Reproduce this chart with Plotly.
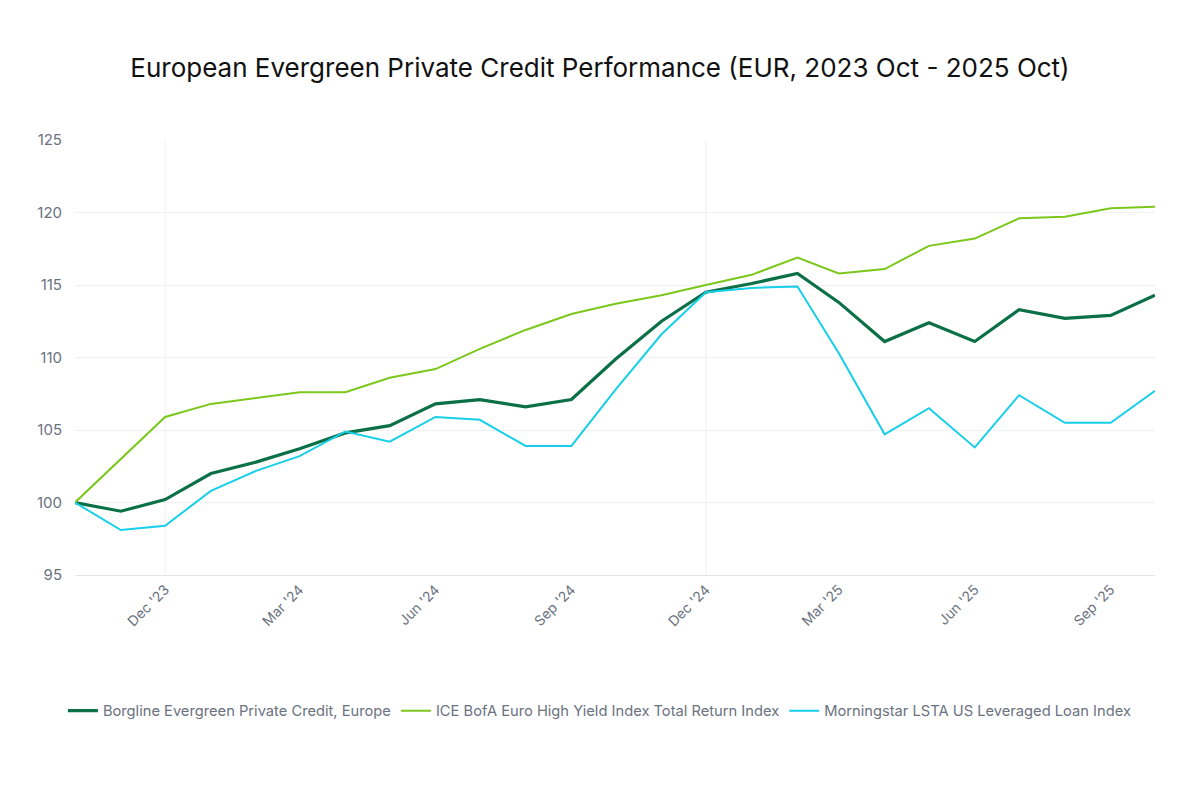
import plotly.graph_objects as go

# monthly index levels, Oct 2023 = 100
months = [
    "2023-10-01", "2023-11-01", "2023-12-01", "2024-01-01", "2024-02-01",
    "2024-03-01", "2024-04-01", "2024-05-01", "2024-06-01", "2024-07-01",
    "2024-08-01", "2024-09-01", "2024-10-01", "2024-11-01", "2024-12-01",
    "2025-01-01", "2025-02-01", "2025-03-01", "2025-04-01", "2025-05-01",
    "2025-06-01", "2025-07-01", "2025-08-01", "2025-09-01", "2025-10-01",
]

borgline = [
    100.0, 99.4, 100.2, 102.0, 102.8, 103.7, 104.8, 105.3, 106.8, 107.1,
    106.6, 107.1, 109.9, 112.5, 114.5, 115.1, 115.8, 113.8, 111.1, 112.4,
    111.1, 113.3, 112.7, 112.9, 114.3,
]
ice_hy = [
    100.0, 103.0, 105.9, 106.8, 107.2, 107.6, 107.6, 108.6, 109.2, 110.6,
    111.9, 113.0, 113.7, 114.3, 115.0, 115.7, 116.9, 115.8, 116.1, 117.7,
    118.2, 119.6, 119.7, 120.3, 120.4,
]
lsta = [
    100.0, 98.1, 98.4, 100.8, 102.2, 103.2, 104.9, 104.2, 105.9, 105.7,
    103.9, 103.9, 107.8, 111.6, 114.5, 114.8, 114.9, 110.3, 104.7, 106.5,
    103.8, 107.4, 105.5, 105.5, 107.7,
]

tick_dates = ["2023-12-01", "2024-03-01", "2024-06-01", "2024-09-01",
              "2024-12-01", "2025-03-01", "2025-06-01", "2025-09-01"]
tick_labels = ["Dec '23", "Mar '24", "Jun '24", "Sep '24",
               "Dec '24", "Mar '25", "Jun '25", "Sep '25"]
year_lines = ["2023-12-01", "2024-12-01"]

font = "Inter, Lato, sans-serif"
grey = "#6b7280"

fig = go.Figure()
fig.add_trace(go.Scatter(x=months, y=borgline, mode="lines",
                         name="Borgline Evergreen Private Credit, Europe",
                         line=dict(color="#0b7047", width=3.2)))
fig.add_trace(go.Scatter(x=months, y=ice_hy, mode="lines",
                         name="ICE BofA Euro High Yield Index Total Return Index",
                         line=dict(color="#7cc71b", width=2)))
fig.add_trace(go.Scatter(x=months, y=lsta, mode="lines",
                         name="Morningstar LSTA US Leveraged Loan Index",
                         line=dict(color="#17cfe8", width=2)))

# vertical guides at year end
for d in year_lines:
    fig.add_shape(type="line", xref="x", yref="paper", x0=d, x1=d, y0=0, y1=1,
                  line=dict(color="#eef0f2", width=1), layer="below")

fig.update_layout(
    width=1200, height=800,
    paper_bgcolor="white", plot_bgcolor="white",
    font=dict(family=font, color=grey),
    title=dict(text="European Evergreen Private Credit Performance (EUR, 2023 Oct - 2025 Oct)",
               x=0.4933, xanchor="center", y=0.925, yanchor="middle",
               font=dict(size=26, color="#111111", family=font)),
    margin=dict(l=67, r=53, t=132, b=233),
    showlegend=True,
    legend=dict(orientation="h", x=0.486, xanchor="center", y=-0.313, yanchor="middle",
                font=dict(size=14.7, color=grey), itemwidth=30,
                tracegroupgap=0),
    hovermode="x unified",
)
fig.update_xaxes(
    type="date", range=["2023-10-01", "2025-10-01"],
    tickvals=tick_dates, ticktext=tick_labels, tickangle=-45,
    tickfont=dict(size=14, color=grey),
    showgrid=False, showline=True, linecolor="#e3e6ea", linewidth=1,
    ticks="", zeroline=False,
)
fig.update_yaxes(
    range=[95, 125], dtick=5, tick0=95,
    tickfont=dict(size=15, color=grey),
    showgrid=True, gridcolor="#f0f1f3", gridwidth=1,
    zeroline=False, showline=False, ticks="", ticklabelstandoff=12,
)

fig.write_html("out.html")
